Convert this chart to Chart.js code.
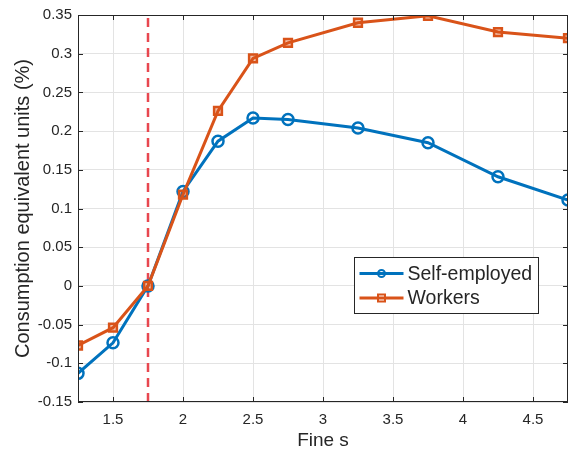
<!DOCTYPE html>
<html>
<head>
<meta charset="utf-8">
<script src="https://cdn.jsdelivr.net/npm/chart.js@4"></script>
<style>
  html, body { margin: 0; padding: 0; background: #fff; }
  #wrap { width: 569px; height: 455px; }
</style>
</head>
<body>
<div id="wrap"><canvas id="chart" width="569" height="455"></canvas></div>
<script>
const fineS = [1.25, 1.5, 1.75, 2, 2.25, 2.5, 2.75, 3.25, 3.75, 4.25, 4.75];
const selfEmployed = [-0.113, -0.0735, 0, 0.122, 0.187, 0.217, 0.215, 0.204, 0.185, 0.141, 0.111];
const workers = [-0.077, -0.054, 0, 0.118, 0.226, 0.294, 0.314, 0.340, 0.349, 0.328, 0.320];
const xTicks = [1.5, 2, 2.5, 3, 3.5, 4, 4.5];
const yTicks = [-0.15, -0.1, -0.05, 0, 0.05, 0.1, 0.15, 0.2, 0.25, 0.3, 0.35];
const baseline = 1.75;

const blue = '#0072BD';
const orange = '#D95319';
const axisCol = '#262626';
const font = 'Liberation Sans, Arial, Helvetica, sans-serif';

const toPts = (ys) => fineS.map((x, i) => ({ x: x, y: ys[i] }));
const fmt = (v) => String(Math.round(v * 100) / 100);

// box, inward ticks and legend like matlab
const matlabBits = {
  id: 'matlabBits',
  afterDatasetsDraw(chart) {
    const c = chart.ctx;
    const a = chart.chartArea;
    const xs = chart.scales.x, ys = chart.scales.y;
    c.save();
    c.strokeStyle = axisCol;
    c.lineWidth = 1;
    c.strokeRect(a.left + 0.5, a.top + 0.5, a.right - a.left - 1, a.bottom - a.top - 1);
    c.beginPath();
    xTicks.forEach(t => {
      const px = Math.round(xs.getPixelForValue(t)) + 0.5;
      c.moveTo(px, a.bottom); c.lineTo(px, a.bottom - 5);
      c.moveTo(px, a.top); c.lineTo(px, a.top + 5);
    });
    yTicks.forEach(t => {
      const py = Math.round(ys.getPixelForValue(t)) + 0.5;
      c.moveTo(a.left, py); c.lineTo(a.left + 5, py);
      c.moveTo(a.right, py); c.lineTo(a.right - 5, py);
    });
    c.stroke();

    // legend
    const lx = 354.5, ly = 257.5, lw = 184, lh = 56;
    c.fillStyle = '#fff';
    c.fillRect(lx, ly, lw, lh);
    c.strokeStyle = axisCol;
    c.strokeRect(lx, ly, lw, lh);
    const items = [
      { label: 'Self-employed', col: blue, shape: 'circle', y: ly + 16 },
      { label: 'Workers', col: orange, shape: 'rect', y: ly + 40.5 }
    ];
    items.forEach(it => {
      c.strokeStyle = it.col;
      c.lineWidth = 3;
      c.beginPath();
      c.moveTo(lx + 5, it.y); c.lineTo(lx + 49, it.y);
      c.stroke();
      c.lineWidth = 2;
      c.beginPath();
      if (it.shape === 'circle') c.arc(lx + 27, it.y, 3.5, 0, Math.PI * 2);
      else c.rect(lx + 23.5, it.y - 3.5, 7, 7);
      c.stroke();
      c.fillStyle = axisCol;
      c.font = '19.5px ' + font;
      c.textBaseline = 'middle';
      c.fillText(it.label, lx + 53, it.y + 1);
    });
    c.restore();
  }
};

new Chart('chart', {
  type: 'line',
  data: {
    datasets: [
      {
        label: 'baseline',
        data: [{ x: baseline, y: yTicks[0] }, { x: baseline, y: yTicks[yTicks.length - 1] }],
        borderColor: '#E8474F',
        borderWidth: 2.5,
        borderDash: [9, 6],
        pointRadius: 0,
        order: 3
      },
      {
        label: 'Self-employed',
        data: toPts(selfEmployed),
        borderColor: blue,
        borderWidth: 3,
        pointStyle: 'circle',
        pointRadius: 5.5,
        pointBorderWidth: 2.5,
        pointBackgroundColor: 'rgba(255,255,255,0)',
        order: 2
      },
      {
        label: 'Workers',
        data: toPts(workers),
        borderColor: orange,
        borderWidth: 3,
        pointStyle: 'rect',
        pointRadius: 5.5,
        pointBorderWidth: 2.5,
        pointBackgroundColor: 'rgba(217,83,25,0.35)',
        order: 1
      }
    ]
  },
  options: {
    responsive: false,
    animation: false,
    layout: { autoPadding: false, padding: { top: 14, right: 1, left: 0, bottom: 0 } },
    plugins: { legend: { display: false }, tooltip: { enabled: false } },
    scales: {
      x: {
        type: 'linear',
        min: 1.25,
        max: 4.75,
        afterBuildTicks: (s) => { s.ticks = xTicks.map(v => ({ value: v })); },
        afterFit: (s) => { s.height = 53; s.paddingRight = 0; s.paddingLeft = 0; },
        grid: { color: '#e3e3e3', drawTicks: false },
        border: { display: false },
        ticks: { color: axisCol, font: { family: font, size: 15 }, padding: 9, maxRotation: 0, callback: fmt },
        title: { display: true, text: 'Fine s', color: axisCol, font: { family: font, size: 19 }, padding: { top: 0, bottom: 3 } }
      },
      y: {
        min: -0.15,
        max: 0.35,
        afterBuildTicks: (s) => { s.ticks = yTicks.map(v => ({ value: v })); },
        afterFit: (s) => { s.width = 78; },
        grid: { color: '#e3e3e3', drawTicks: false },
        border: { display: false },
        ticks: { color: axisCol, font: { family: font, size: 15 }, padding: 6, callback: fmt },
        title: { display: true, text: 'Consumption equivalent units (%)', color: axisCol, font: { family: font, size: 20 }, padding: { top: 11, bottom: 0 } }
      }
    }
  },
  plugins: [matlabBits]
});
</script>
</body>
</html>
